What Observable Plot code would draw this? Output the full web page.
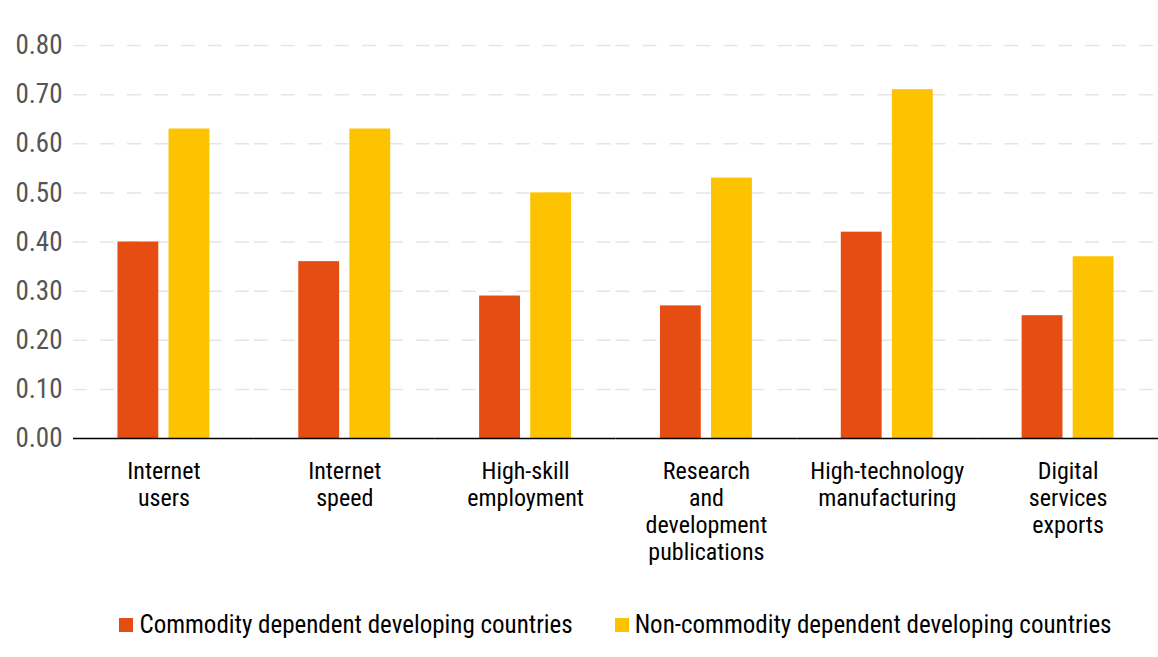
<!DOCTYPE html>
<html>
<head>
<meta charset="utf-8">
<script src="https://cdn.jsdelivr.net/npm/d3@7"></script>
<script src="https://cdn.jsdelivr.net/npm/@observablehq/plot@0.6"></script>
<style>
  html, body { margin: 0; padding: 0; background: #fff; }
  body { width: 1158px; height: 657px; position: relative; overflow: hidden;
         font-family: "Liberation Sans Narrow", "Arial Narrow", "Roboto Condensed", sans-serif; }
  #legend { position: absolute; left: 0; top: 611px; width: 1158px; display: flex; justify-content: center;
            padding-left: 73px; box-sizing: border-box; gap: 42px; font-size: 25px; line-height: 28px; color: #000; }
  .item { display: flex; align-items: center; }
  .sw { width: 14px; height: 14px; margin-right: 6px; display: inline-block; }
</style>
</head>
<body>
<div id="chart"></div>
<div id="legend"></div>
<script>
const categories = ["Internet\nusers", "Internet\nspeed", "High-skill\nemployment", "Research\nand\ndevelopment\npublications", "High-technology\nmanufacturing", "Digital\nservices\nexports"];
const series = ["Commodity dependent developing countries", "Non-commodity dependent developing countries"];
const commodity = [0.40, 0.36, 0.29, 0.27, 0.42, 0.25];
const nonCommodity = [0.63, 0.63, 0.50, 0.53, 0.71, 0.37];
const colors = ["#E64D12", "#FDC300"];
const yTicks = [0, 0.1, 0.2, 0.3, 0.4, 0.5, 0.6, 0.7, 0.8];

const data = [];
categories.forEach((c, i) => {
  data.push({category: c, series: series[0], value: commodity[i]});
  data.push({category: c, series: series[1], value: nonCommodity[i]});
});

const chart = Plot.plot({
  width: 1158,
  height: 590,
  marginTop: 45,
  marginLeft: 73,
  marginRight: 0,
  marginBottom: 152,
  style: {fontFamily: '"Liberation Sans Narrow", "Arial Narrow", "Roboto Condensed", sans-serif', fontSize: "26px", background: "#fff"},
  fx: {domain: categories, padding: 0, round: false, label: null},
  x: {domain: series, paddingInner: 0.2, paddingOuter: 0.87, round: false, axis: null},
  y: {domain: [0, 0.8], label: null},
  color: {domain: series, range: colors},
  marks: [
    Plot.ruleY(yTicks.slice(1), {stroke: "#e5e5e5", strokeWidth: 1.5, strokeDasharray: "14,13"}),
    Plot.barY(data, {fx: "category", x: "series", y: "value", fill: "series"}),
    Plot.ruleY([0], {stroke: "#000", strokeWidth: 1.5}),
    Plot.axisY(yTicks, {tickFormat: d3.format(".2f"), tickSize: 0, tickPadding: 11, fontSize: 27, fill: "#555", label: null}),
    Plot.axisFx({anchor: "bottom", tickSize: 0, tickPadding: 21, fontSize: 24, fill: "#000", lineHeight: 1.13, label: null})
  ]
});
document.getElementById("chart").appendChild(chart);

const legend = document.getElementById("legend");
series.forEach((s, i) => {
  const item = document.createElement("div");
  item.className = "item";
  const sw = document.createElement("span");
  sw.className = "sw";
  sw.style.background = colors[i];
  const t = document.createElement("span");
  t.textContent = s;
  item.appendChild(sw);
  item.appendChild(t);
  legend.appendChild(item);
});
</script>
</body>
</html>
